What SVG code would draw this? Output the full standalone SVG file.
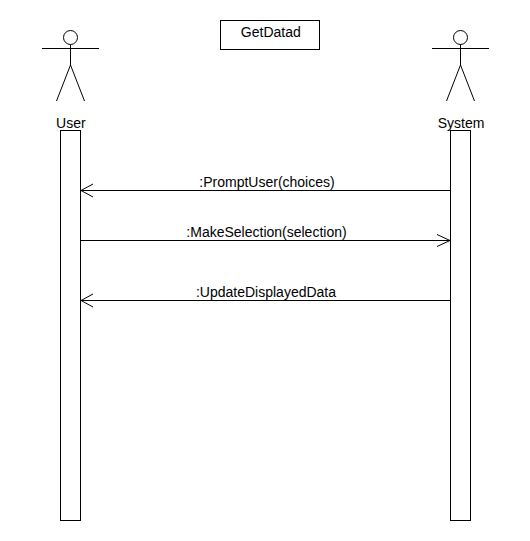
<svg xmlns="http://www.w3.org/2000/svg" width="530" height="541" viewBox="0 0 530 541">
<style>
.s{fill:none;stroke:#000;stroke-width:1}
text{font-family:"Liberation Sans",Arial,sans-serif;font-size:14px;fill:#000;text-anchor:middle}
</style>
<defs>
<g id="actor">
<circle class="s" cx="0" cy="7.500" r="7"/>
<path class="s" d="M0 14.500V35M-28.500 18.500H28.500M0 35L-14 71M0 35L14 71"/>
</g>
</defs>
<rect width="530" height="541" fill="#fff"/>
<g id="title"><rect class="s" x="220.500" y="20.500" width="99" height="29"/><text x="270.800" y="37">GetDatad</text></g>
<g id="user">
<use href="#actor" x="70.500" y="30"/>
<text x="70.800" y="128">User</text>
<rect class="s" x="60.500" y="130.500" width="20" height="390"/>
</g>
<g id="system">
<use href="#actor" x="460.500" y="30"/>
<text x="461" y="128">System</text>
<rect class="s" x="450.500" y="130.500" width="20" height="390"/>
</g>
<g id="connectors">
<path class="s" d="M450 190.500H81M93 184L81 190.500L93 197"/>
<text x="267" y="187">:PromptUser(choices)</text>
<path class="s" d="M81 240.500H450M437 234.500L450 240.500L437 246.500"/>
<text x="266.500" y="237">:MakeSelection(selection)</text>
<path class="s" d="M450 300.500H81M93 294L81 300.500L93 307"/>
<text x="266" y="297">:UpdateDisplayedData</text>
</g>
</svg>
